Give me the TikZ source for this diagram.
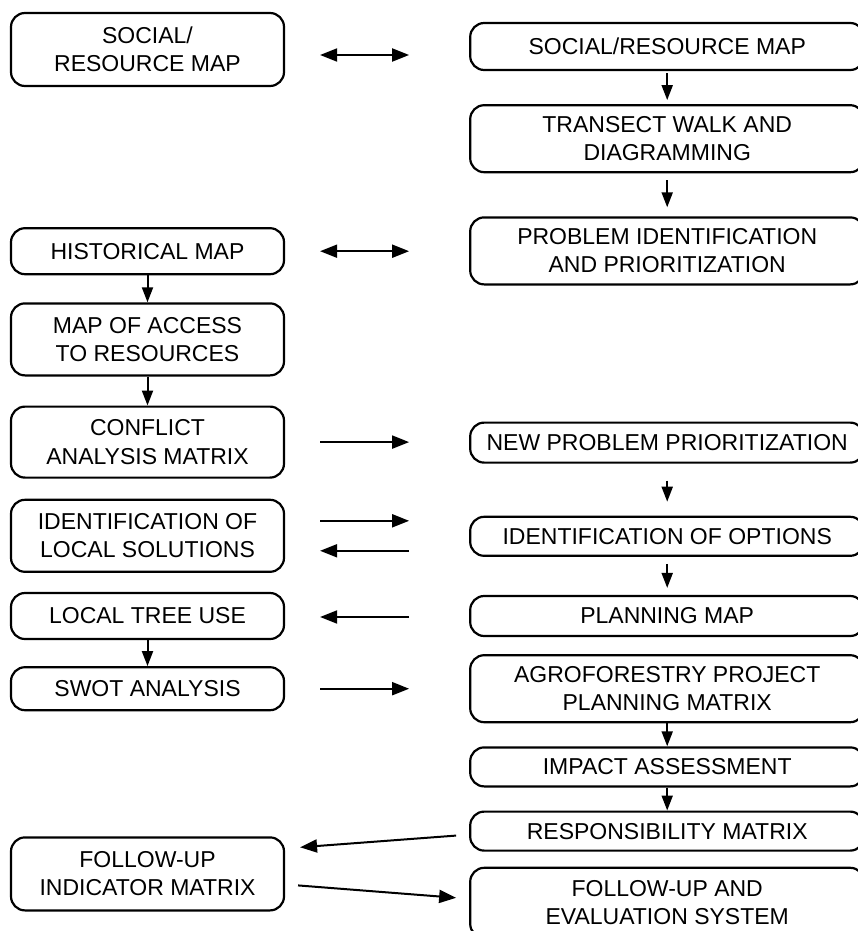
\documentclass[tikz,border=0pt]{standalone}
\usepackage{fontspec}
\setmainfont{Liberation Sans}
\usetikzlibrary{arrows.meta, positioning}
\newcommand{\boxfont}{\fontsize{23pt}{28.3pt}\selectfont}

\begin{document}
\begin{tikzpicture}[
  x=1pt, y=-1pt,
  every node/.style={draw, line width=2.2pt, rounded corners=14pt, align=center, font=\boxfont},
  leftbox/.style={minimum width=273pt},
  rightbox/.style={minimum width=394pt},
  arrow/.style={line width=2pt, -{Triangle[length=17pt, width=13pt]}},
  downarrow/.style={line width=2pt, -{Triangle[length=15pt, width=11pt]}},
  twoway/.style={line width=2pt, {Triangle[length=17pt, width=13pt]}-{Triangle[length=17pt, width=13pt]}}
]

\useasboundingbox (0,0) rectangle (858,931);

% Nodes
\node (socialmap) [leftbox, minimum height=73pt] at (147.5,49.5) {SOCIAL/\\ RESOURCE MAP};
\node (historical) [leftbox, minimum height=46pt, below=140pt of socialmap] {HISTORICAL MAP};
\node (access) [leftbox, minimum height=72pt, below=27pt of historical] {MAP OF ACCESS\\ TO RESOURCES};
\node (conflict) [leftbox, minimum height=71pt, below=29pt of access] {CONFLICT\\ ANALYSIS MATRIX};
\node (localsol) [leftbox, minimum height=72pt, below=20pt of conflict] {IDENTIFICATION OF\\ LOCAL SOLUTIONS};
\node (treeuse) [leftbox, minimum height=46pt, below=19pt of localsol] {LOCAL TREE USE};
\node (swot) [leftbox, minimum height=43pt, below=26pt of treeuse] {SWOT ANALYSIS};
\node (indicator) [leftbox, minimum height=73pt, below=125pt of swot] {FOLLOW-UP\\ INDICATOR MATRIX};

\node (resource) [rightbox, minimum height=47pt, right=184pt of socialmap, yshift=3pt] {SOCIAL/RESOURCE MAP};
\node (transect) [rightbox, minimum height=67pt, below=33pt of resource] {TRANSECT WALK AND\\ DIAGRAMMING};
\node (problem) [rightbox, minimum height=67pt, below=43pt of transect] {PROBLEM IDENTIFICATION\\ AND PRIORITIZATION};
\node (newprio) [rightbox, minimum height=40pt, below=136pt of problem] {NEW PROBLEM PRIORITIZATION};
\node (options) [rightbox, minimum height=39pt, below=52pt of newprio] {IDENTIFICATION OF OPTIONS};
\node (planning) [rightbox, minimum height=40pt, below=38pt of options] {PLANNING MAP};
\node (agroforestry) [rightbox, minimum height=67pt, below=17pt of planning] {AGROFORESTRY PROJECT\\ PLANNING MATRIX};
\node (impact) [rightbox, minimum height=39pt, below=23pt of agroforestry] {IMPACT ASSESSMENT};
\node (responsibility) [rightbox, minimum height=39pt, below=23pt of impact] {RESPONSIBILITY MATRIX};
\node (evaluation) [rightbox, minimum height=70pt, below=15pt of responsibility] {FOLLOW-UP AND\\ EVALUATION SYSTEM};

% Arrows
\draw [twoway, shorten <=35pt, shorten >=60pt] ([yshift=-5.5pt]socialmap.east) -- ([yshift=-8.5pt]resource.west);
\draw [twoway, shorten <=35pt, shorten >=60pt] (historical.east) -- (historical.east -| problem.west);
\draw [arrow, shorten <=35pt, shorten >=60pt] (conflict.east) -- (conflict.east -| newprio.west);
\draw [arrow, shorten <=35pt, shorten >=60pt] ([yshift=15pt]localsol.east) -- ([yshift=15.5pt]options.west);
\draw [arrow, shorten <=60pt, shorten >=35pt] ([yshift=-14.5pt]options.west) -- ([yshift=-15pt]localsol.east);
\draw [arrow, shorten <=60pt, shorten >=35pt] ([yshift=-1pt]planning.west) -- ([yshift=-1pt]treeuse.east);
\draw [arrow, shorten <=35pt, shorten >=60pt] (swot.east) -- (swot.east -| agroforestry.west);
\draw [arrow, shorten <=13pt, shorten >=15pt] ([yshift=-3.5pt]responsibility.west) -- ([yshift=25.5pt]indicator.east);
\draw [arrow, shorten <=13pt, shorten >=13pt] ([yshift=-10.5pt]indicator.east) -- ([yshift=4pt]evaluation.west);

\draw [downarrow, shorten <=2pt, shorten >=4pt] (resource) -- (transect);
\draw [downarrow, shorten <=7pt, shorten >=9pt] (transect) -- (problem);
\draw [downarrow] (historical) -- (access);
\draw [downarrow] (access) -- (conflict);
\draw [downarrow, shorten <=17pt, shorten >=14pt] (newprio) -- (options);
\draw [downarrow, shorten <=7pt, shorten >=7pt] (options) -- (planning);
\draw [downarrow] (treeuse) -- (swot);
\draw [downarrow] (agroforestry) -- (impact);
\draw [downarrow] (impact) -- (responsibility);

\end{tikzpicture}
\end{document}
